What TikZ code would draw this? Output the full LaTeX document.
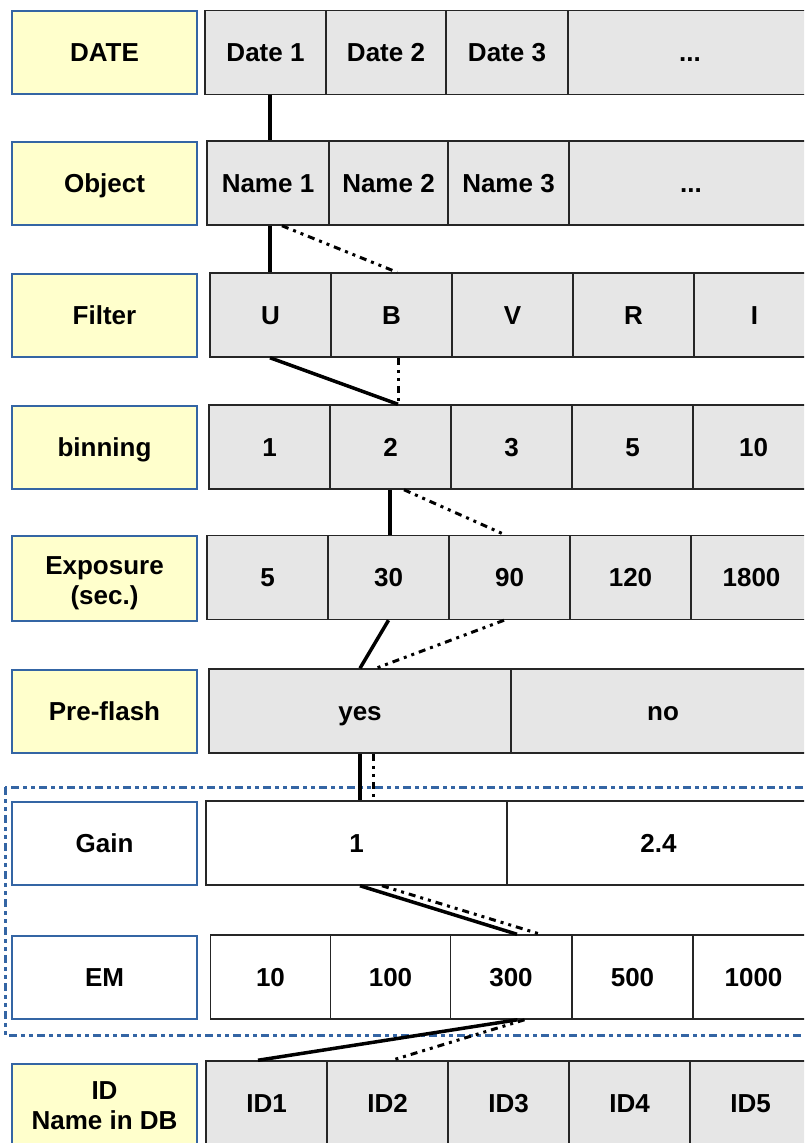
\documentclass[tikz,border=0pt]{standalone}
\usepackage{fontspec}
\setmainfont{Liberation Sans}
\definecolor{cyel}{RGB}{255,255,204}
\definecolor{cblu}{RGB}{52,101,164}
\definecolor{cgry}{RGB}{230,230,230}
\tikzset{
  lbl/.style={draw=cblu, line width=2pt, fill=cyel, minimum width=185pt, minimum height=83pt},
  mid/.style={text height=18.6pt, text depth=0pt},
  cell/.style={draw=black!85, line width=1.5pt, fill=cgry, minimum height=84pt, mid},
  link/.style={line width=3.5pt},
  dlink/.style={line width=3pt, dash pattern=on 7pt off 5pt on 3pt off 5pt on 3pt off 5pt},
}
\begin{document}
\begin{tikzpicture}[x=1pt, y=-1pt, font=\fontsize{26}{30}\selectfont\bfseries]
\useasboundingbox (0,0) rectangle (804,1143);
\clip (0,0) rectangle (804,1143);

%%% Frame round gain and EM
\draw[cblu, line width=3pt, dash pattern=on 8pt off 4pt on 4pt off 4pt on 4pt off 4pt] (5,787) rectangle (814,1035);

%%% Left column
\node[lbl, mid] (lDate) at (104.5,52.5) {DATE};
\node[lbl, mid] (lObj) at (104.5,183.5) {Object};
\node[lbl, mid] (lFil) at (104.5,315.5) {Filter};
\node[lbl, mid] (lBin) at (104.5,447) {binning};
\node[lbl, minimum height=85pt] (lExp) at (104.5,578.5) {};
\node[align=center] (tExp) at (104.5,583) {Exposure\\(sec.)};
\node[lbl, mid] (lPre) at (104.5,711) {Pre-flash};
\node[lbl, mid, fill=white] (lGain) at (104.5,843) {Gain};
\node[lbl, mid, fill=white] (lEM) at (104.5,977) {EM};
\node[lbl, align=center] (lID) at (104.5,1105.5) {ID\\Name in DB};

%%% Dates
\node[cell, minimum width=121pt] (d1) at (265.5,52.5) {Date 1};
\node[cell, minimum width=120pt] (d2) at (386,52.5) {Date 2};
\node[cell, minimum width=122pt] (d3) at (507,52.5) {Date 3};
\node[cell, minimum width=244pt] (dd) at (690,52.5) {...};

%%% Objects
\node[cell, minimum width=122pt] (n1) at (268,183) {Name 1};
\node[cell, minimum width=119pt] (n2) at (388.5,183) {Name 2};
\node[cell, minimum width=121pt] (n3) at (508.5,183) {Name 3};
\node[cell, minimum width=244pt] (nd) at (691,183) {...};

%%% Filters
\node[cell, minimum width=121pt] (fU) at (270.5,315) {U};
\node[cell, minimum width=121pt] (fB) at (391.5,315) {B};
\node[cell, minimum width=121pt] (fV) at (512.5,315) {V};
\node[cell, minimum width=121pt] (fR) at (633.5,315) {R};
\node[cell, minimum width=121pt] (fI) at (754.5,315) {I};

%%% Binning
\node[cell, minimum width=121pt] (b1) at (269.5,447) {1};
\node[cell, minimum width=121pt] (b2) at (390.5,447) {2};
\node[cell, minimum width=121pt] (b3) at (511.5,447) {3};
\node[cell, minimum width=121pt] (b5) at (632.5,447) {5};
\node[cell, minimum width=121pt] (b10) at (753.5,447) {10};

%%% Exposure
\node[cell, minimum width=121pt] (e5) at (267.5,577.5) {5};
\node[cell, minimum width=121pt] (e30) at (388.5,577.5) {30};
\node[cell, minimum width=121pt] (e90) at (509.5,577.5) {90};
\node[cell, minimum width=121pt] (e120) at (630.5,577.5) {120};
\node[cell, minimum width=121pt] (e1800) at (751.5,577.5) {1800};

%%% Pre-flash
\node[cell, minimum width=302pt] (pYes) at (360,711) {yes};
\node[cell, minimum width=304pt] (pNo) at (663,711) {no};

%%% Gain
\node[cell, fill=white, minimum width=301pt] (g1) at (356.5,843) {1};
\node[cell, fill=white, minimum width=303pt] (g24) at (658.5,843) {2.4};

%%% EM
\node[cell, fill=white, minimum width=120pt] (m10) at (270.5,977) {10};
\node[cell, fill=white, minimum width=120pt] (m100) at (390.5,977) {100};
\node[cell, fill=white, minimum width=121pt] (m300) at (511,977) {300};
\node[cell, fill=white, minimum width=121pt] (m500) at (632.5,977) {500};
\node[cell, fill=white, minimum width=121pt] (m1000) at (753.5,977) {1000};

%%% IDs
\node[cell, minimum width=121pt] (i1) at (266.5,1103) {ID1};
\node[cell, minimum width=121pt] (i2) at (387.5,1103) {ID2};
\node[cell, minimum width=121pt] (i3) at (508.5,1103) {ID3};
\node[cell, minimum width=121pt] (i4) at (629.5,1103) {ID4};
\node[cell, minimum width=121pt] (i5) at (750.5,1103) {ID5};

%%% Links
\draw[link] ([xshift=4.5pt]d1.south) -- ([xshift=2pt]n1.north);
\draw[link] ([xshift=2pt]n1.south) -- ([xshift=-0.5pt]fU.north);
\draw[dlink] ([xshift=14pt]n1.south) -- ([xshift=5.5pt]fB.north);
\draw[link] ([xshift=-0.5pt]fU.south) -- ([xshift=7.5pt]b2.north);
\draw[dlink] ([xshift=6.5pt]fB.south) -- ([xshift=7.5pt]b2.north);
\draw[link] ([xshift=-0.5pt]b2.south) -- ([xshift=1.5pt]e30.north);
\draw[dlink] ([xshift=13.5pt]b2.south) -- ([xshift=-4.5pt]e90.north);
\draw[link] (e30.south) -- (pYes.north);
\draw[dlink] ([xshift=-5.5pt]e90.south) -- ([xshift=16pt]pYes.north);
\draw[link] (pYes.south) -- ([xshift=3.5pt]g1.north);
\draw[dlink] ([xshift=13pt]pYes.south) -- ([xshift=16.5pt]g1.north);
\draw[link] ([xshift=3.5pt]g1.south) -- ([xshift=6pt]m300.north);
\draw[dlink] ([xshift=25.5pt]g1.south) -- ([xshift=29.5pt]m300.north);
\draw[link] ([xshift=6.5pt]m300.south) -- ([xshift=-8.5pt]i1.north);
\draw[dlink] ([xshift=13.5pt]m300.south) -- ([xshift=4.5pt]i2.north);
\end{tikzpicture}
\end{document}
